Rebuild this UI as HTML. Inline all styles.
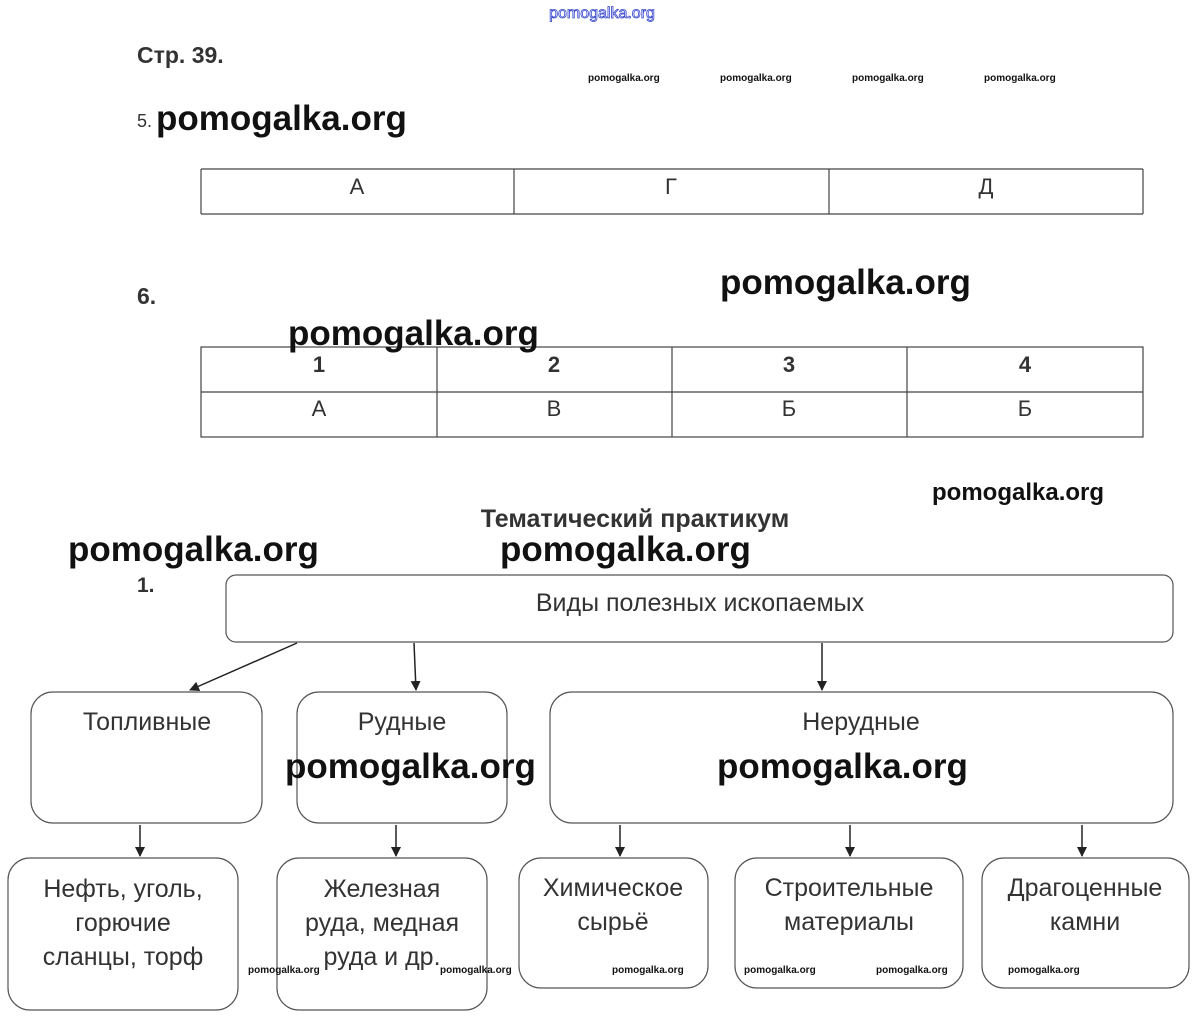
<!DOCTYPE html>
<html><head><meta charset="utf-8"><style>
html,body{margin:0;padding:0;background:#fff;}
svg{display:block;}
.t{font-family:"Liberation Sans",Arial,sans-serif;fill:#333;}
.w{font-family:"Liberation Sans",Arial,sans-serif;font-weight:bold;fill:#111;}
</style></head><body>
<svg width="1203" height="1025" viewBox="0 0 1203 1025" xmlns="http://www.w3.org/2000/svg">
<defs><marker id="a" markerWidth="10" markerHeight="10" refX="9" refY="5" orient="auto" markerUnits="userSpaceOnUse"><path d="M0,0 L10,5 L0,10 z" fill="#222"/></marker></defs>
<text x="602" y="18" text-anchor="middle" class="t" style="font-size:16px;fill:#fff;stroke:#3344cc;stroke-width:0.8">pomogalka.org</text>
<text x="137" y="63" class="t" style="font-size:23px;font-weight:bold">Стр. 39.</text>
<g class="w" style="font-size:10px">
<text x="588" y="81">pomogalka.org</text><text x="720" y="81">pomogalka.org</text><text x="852" y="81">pomogalka.org</text><text x="984" y="81">pomogalka.org</text>
</g>
<text x="137" y="127" class="t" style="font-size:18px">5.</text>
<text x="156" y="130" class="w" style="font-size:35px">pomogalka.org</text>
<g stroke="#444" stroke-width="1.2" fill="none">
<line x1="201" y1="169" x2="1143" y2="169"/><line x1="201" y1="214" x2="1143" y2="214"/>
<line x1="201" y1="169" x2="201" y2="214"/><line x1="514" y1="169" x2="514" y2="214"/><line x1="829" y1="169" x2="829" y2="214"/><line x1="1143" y1="169" x2="1143" y2="214"/>
<rect x="201" y="347" width="942" height="90"/><line x1="201" y1="392" x2="1143" y2="392"/>
<line x1="437" y1="347" x2="437" y2="437"/><line x1="672" y1="347" x2="672" y2="437"/><line x1="907" y1="347" x2="907" y2="437"/>
</g>
<g class="t" style="font-size:22px" text-anchor="middle">
<text x="357" y="194">А</text><text x="671" y="194">Г</text><text x="986" y="194">Д</text>
<text x="319" y="372" style="font-weight:bold">1</text><text x="554" y="372" style="font-weight:bold">2</text><text x="789" y="372" style="font-weight:bold">3</text><text x="1025" y="372" style="font-weight:bold">4</text>
<text x="319" y="416">А</text><text x="554" y="416">В</text><text x="789" y="416">Б</text><text x="1025" y="416">Б</text>
</g>
<text x="137" y="304" class="t" style="font-size:23px;font-weight:bold">6.</text>
<text x="720" y="294" class="w" style="font-size:35px">pomogalka.org</text>
<text x="288" y="345" class="w" style="font-size:35px">pomogalka.org</text>
<text x="932" y="500" class="w" style="font-size:24px">pomogalka.org</text>
<text x="635" y="527" text-anchor="middle" class="t" style="font-size:25px;font-weight:bold">Тематический практикум</text>
<text x="68" y="561" class="w" style="font-size:35px">pomogalka.org</text>
<text x="500" y="561" class="w" style="font-size:35px">pomogalka.org</text>
<text x="137" y="592" class="t" style="font-size:21px;font-weight:bold">1.</text>
<g stroke="#555" stroke-width="1.2" fill="none">
<rect x="226" y="575" width="947" height="67" rx="10"/>
<rect x="31" y="692" width="231" height="131" rx="22"/>
<rect x="297" y="692" width="210" height="131" rx="22"/>
<rect x="550" y="692" width="623" height="131" rx="22"/>
<rect x="8" y="858" width="230" height="152" rx="22"/>
<rect x="277" y="858" width="210" height="152" rx="22"/>
<rect x="519" y="858" width="189" height="130" rx="22"/>
<rect x="735" y="858" width="228" height="130" rx="22"/>
<rect x="982" y="858" width="207" height="130" rx="22"/>
</g>
<g stroke="#222" stroke-width="1.5" marker-end="url(#a)">
<line x1="297" y1="643" x2="190" y2="690"/><line x1="414" y1="643" x2="416" y2="690"/><line x1="822" y1="643" x2="822" y2="690"/>
<line x1="140" y1="825" x2="140" y2="856"/><line x1="396" y1="825" x2="396" y2="856"/><line x1="620" y1="825" x2="620" y2="856"/><line x1="850" y1="825" x2="850" y2="856"/><line x1="1082" y1="825" x2="1082" y2="856"/>
</g>
<g class="t" style="font-size:25px" text-anchor="middle">
<text x="700" y="611">Виды полезных ископаемых</text>
<text x="147" y="730">Топливные</text><text x="402" y="730">Рудные</text><text x="861" y="730">Нерудные</text>
<text x="123" y="897">Нефть, уголь,</text><text x="123" y="931">горючие</text><text x="123" y="965">сланцы, торф</text>
<text x="382" y="897">Железная</text><text x="382" y="931">руда, медная</text><text x="382" y="965">руда и др.</text>
<text x="613" y="896">Химическое</text><text x="613" y="930">сырьё</text>
<text x="849" y="896">Строительные</text><text x="849" y="930">материалы</text>
<text x="1085" y="896">Драгоценные</text><text x="1085" y="930">камни</text>
</g>
<text x="285" y="778" class="w" style="font-size:35px">pomogalka.org</text>
<text x="717" y="778" class="w" style="font-size:35px">pomogalka.org</text>
<g class="w" style="font-size:10px">
<text x="248" y="973">pomogalka.org</text><text x="440" y="973">pomogalka.org</text><text x="612" y="973">pomogalka.org</text><text x="744" y="973">pomogalka.org</text><text x="876" y="973">pomogalka.org</text><text x="1008" y="973">pomogalka.org</text>
</g>
</svg>
</body></html>
